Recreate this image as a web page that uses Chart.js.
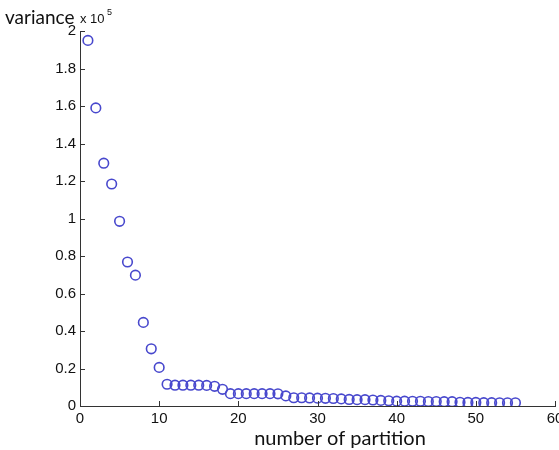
<!DOCTYPE html>
<html>
<head>
<meta charset="utf-8">
<script src="https://cdn.jsdelivr.net/npm/chart.js@4"></script>
<style>
html,body{margin:0;padding:0;background:#fff;overflow:hidden;width:559px;height:450px;}
#wrap{position:absolute;left:0;top:0;width:567px;height:450px;}
</style>
</head>
<body>
<div id="wrap"><canvas id="c" width="567" height="450"></canvas></div>
<script>
const partitions = [1,2,3,4,5,6,7,8,9,10,11,12,13,14,15,16,17,18,19,20,21,22,23,24,25,26,27,28,29,30,31,32,33,34,35,36,37,38,39,40,41,42,43,44,45,46,47,48,49,50,51,52,53,54,55];
const variance = [1.95,1.59,1.295,1.184,0.985,0.768,0.698,0.446,0.305,0.206,0.116,0.111,0.111,0.111,0.111,0.110,0.105,0.089,0.066,0.066,0.066,0.066,0.066,0.066,0.065,0.054,0.044,0.044,0.043,0.042,0.041,0.040,0.038,0.035,0.034,0.034,0.032,0.030,0.028,0.026,0.026,0.025,0.025,0.024,0.024,0.023,0.023,0.020,0.019,0.019,0.018,0.018,0.017,0.017,0.017];
const xTicks = [0,10,20,30,40,50,60];
const yTicks = [0,0.2,0.4,0.6,0.8,1,1.2,1.4,1.6,1.8,2];
const yLabel = 'variance';
const yExponent = '5';
const xLabel = 'number of partition';

const points = partitions.map((p,i)=>({x:p,y:variance[i]}));
const axisColor = '#333333';

const decor = {
  id:'decor',
  afterDraw(chart){
    const ctx = chart.ctx, xs = chart.scales.x, ys = chart.scales.y;
    const L = 5;
    ctx.save();
    ctx.strokeStyle = axisColor; ctx.lineWidth = 1;
    ctx.beginPath();
    xTicks.forEach(v=>{const px=Math.round(xs.getPixelForValue(v))+0.5; ctx.moveTo(px, ys.bottom); ctx.lineTo(px, ys.bottom-L);});
    yTicks.forEach(v=>{const py=Math.round(ys.getPixelForValue(v))+0.5; ctx.moveTo(xs.left, py); ctx.lineTo(xs.left+L, py);});
    ctx.stroke();
    ctx.fillStyle = '#111';
    ctx.textBaseline = 'alphabetic';
    ctx.textAlign = 'left';
    ctx.font = '19px Lato';
    ctx.fillText(yLabel, 5, 24);
    ctx.font = '13px "Liberation Sans", Arial';
    ctx.fillText('x 10', 80, 23);
    ctx.font = '9px "Liberation Sans", Arial';
    ctx.fillText(yExponent, 107, 15);
    ctx.font = '20px Lato';
    ctx.textAlign = 'center';
    ctx.fillText(xLabel, 340, 445);
    ctx.restore();
  }
};

new Chart(document.getElementById('c'), {
  type:'scatter',
  data:{datasets:[{data:points, showLine:false, pointStyle:'circle', pointRadius:4.8, pointHoverRadius:4.8, pointBorderWidth:1.6, borderColor:'rgb(72,72,205)', backgroundColor:'rgba(0,0,0,0)'}]},
  options:{
    responsive:false, animation:false, devicePixelRatio:1,
    layout:{padding:{left:0,right:12,top:31,bottom:0}},
    plugins:{legend:{display:false}, tooltip:{enabled:false}},
    scales:{
      x:{type:'linear', min:0, max:60,
        afterBuildTicks(s){s.ticks = xTicks.map(v=>({value:v}));},
        afterFit(s){s.height = 44; s.paddingLeft=0; s.paddingRight=0;},
        grid:{display:false, drawTicks:false},
        border:{display:true,color:axisColor,width:1},
        ticks:{padding:4, color:'#111', font:{family:'"Liberation Sans", Arial', size:15}, maxRotation:0, autoSkip:false}
      },
      y:{type:'linear', min:0, max:2,
        afterBuildTicks(s){s.ticks = yTicks.map(v=>({value:v}));},
        afterFit(s){s.width = 80; s.paddingTop=0; s.paddingBottom=0;},
        grid:{display:false, drawTicks:false},
        border:{display:true,color:axisColor,width:1},
        ticks:{padding:4, color:'#111', font:{family:'"Liberation Sans", Arial', size:15}, autoSkip:false, callback:v=>String(+v.toFixed(1))}
      }
    }
  },
  plugins:[decor]
});
</script>
</body>
</html>
